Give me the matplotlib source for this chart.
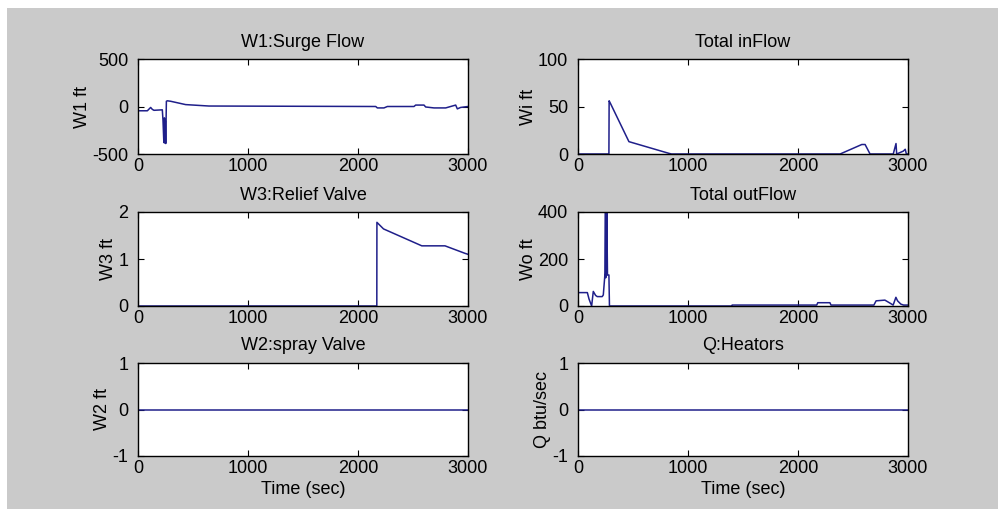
import matplotlib
matplotlib.use("Agg")
import matplotlib.pyplot as plt
from matplotlib.patches import Rectangle

# W1: surge flow (ft) vs time (sec)
w1_t = [0, 85, 115, 130, 145, 221, 227, 235, 240, 245, 248, 252, 256, 258, 267, 297,
        433, 645, 2161, 2176, 2236, 2267, 2509, 2524, 2600, 2615, 2691, 2797, 2888,
        2903, 2933, 3000]
w1_v = [-45, -45, -10, -30, -40, -35, -140, -380, -120, -385, -150, -390, -100, 55, 60, 55,
        20, 5, 0, -15, -15, 0, 0, 15, 15, -5, -15, -15, 15, -25, -10, 0]

# total inflow
wi_t = [0, 281, 283, 296, 463, 826, 850, 2383, 2580, 2610, 2655, 2866, 2891, 2897,
        2957, 2975, 2985, 3000]
wi_v = [0, 0, 56, 53, 13, 0.7, 0, 0, 10, 10, 0, 0, 11, 0, 3, 5, 0, 0]

# W3: relief valve
w3_t = [0, 2171, 2172, 2232, 2580, 2791, 2973, 3000]
w3_v = [0, 0, 1.78, 1.64, 1.28, 1.28, 1.12, 1.1]

# total outflow
wo_t = [0, 85, 100, 124, 139, 160, 175, 220, 230, 242, 245, 250, 252, 256, 258, 262,
        268, 281, 286, 1400, 1401, 2170, 2180, 2290, 2300, 2690, 2710, 2790, 2830,
        2865, 2890, 2905, 2935, 2960, 3000]
wo_v = [57, 57, 30, 0, 62, 45, 40, 40, 47, 118, 140, 400, 120, 395, 130, 400,
        132, 132, 0, 0, 4, 4, 14, 14, 4, 4, 22, 25, 14, 4, 37, 22, 8, 4, 4]

# W2: spray valve and Q: heaters
w2_t = [0, 3000]
w2_v = [0, 0]
q_t = [0, 3000]
q_v = [0, 0]

W, H = 998, 509
line_color = "#1f1f8a"
plt.rcParams["font.family"] = ["Liberation Sans", "DejaVu Sans"]
plt.rcParams["font.size"] = 13
plt.rcParams["axes.unicode_minus"] = False

fig = plt.figure(figsize=(W / 100, H / 100), dpi=100, facecolor="white")
fig.patches.append(Rectangle((7 / W, 0), 1, 1 - 8 / H, transform=fig.transFigure,
                             facecolor="#cacaca", edgecolor="none", zorder=-1))


def make_axes(l, r, t, b):
    return fig.add_axes([l / W, 1 - b / H, (r - l) / W, (b - t) / H])


cols = [(138, 468), (578, 908)]
rows = [(59, 154), (212, 306), (363, 456)]

panels = [
    (0, 0, w1_t, w1_v, "W1:Surge Flow", "W1 ft", (-500, 500), [-500, 0, 500]),
    (0, 1, wi_t, wi_v, "Total inFlow", "Wi ft", (0, 100), [0, 50, 100]),
    (1, 0, w3_t, w3_v, "W3:Relief Valve", "W3 ft", (0, 2), [0, 1, 2]),
    (1, 1, wo_t, wo_v, "Total outFlow", "Wo ft", (0, 400), [0, 200, 400]),
    (2, 0, w2_t, w2_v, "W2:spray Valve", "W2 ft", (-1, 1), [-1, 0, 1]),
    (2, 1, q_t, q_v, "Q:Heators", "Q btu/sec", (-1, 1), [-1, 0, 1]),
]

for r, c, t, v, title, ylab, ylim, yticks in panels:
    ax = make_axes(cols[c][0], cols[c][1], rows[r][0], rows[r][1])
    ax.plot(t, v, color=line_color, linewidth=1.1)
    ax.set_xlim(0, 3000)
    ax.set_ylim(*ylim)
    ax.set_xticks([0, 1000, 2000, 3000])
    ax.set_yticks(yticks)
    ax.tick_params(direction="in", top=True, right=True, length=4, labelsize=13)
    ax.tick_params(axis="x", pad=3)
    ax.tick_params(axis="y", pad=7)
    for s in ax.spines.values():
        s.set_linewidth(1.0)
    ax.set_title(title, fontsize=13, pad=9)
    ax.set_ylabel(ylab, fontsize=13, labelpad=1)
    if r == 2:
        ax.set_xlabel("Time (sec)", fontsize=13, labelpad=3)

fig.savefig("out.png", dpi=100, facecolor=fig.get_facecolor())
